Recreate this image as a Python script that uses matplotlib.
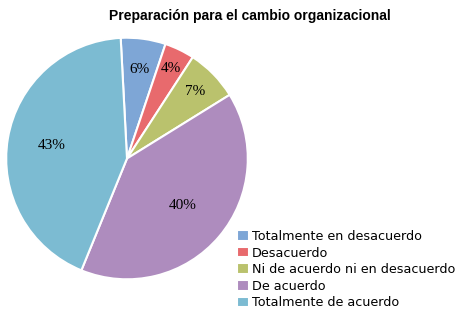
import numpy as np
import matplotlib.pyplot as plt

labels = ["Totalmente en desacuerdo", "Desacuerdo", "Ni de acuerdo ni en desacuerdo",
          "De acuerdo", "Totalmente de acuerdo"]
values = [6, 4, 7, 40, 43]
pct_labels = ["6%", "4%", "7%", "40%", "43%"]
colors = ["#7ea6d6", "#e86a6d", "#bac26d", "#ae8cbe", "#7cbbd2"]
label_dist = [0.74, 0.83, 0.79, 0.6, 0.63]

fig = plt.figure(figsize=(4.59, 3.15), dpi=100)
ax = fig.add_axes([5/459, 1 - 281/315, 244/459, 245/315])

wedges, _ = ax.pie(values, colors=colors, startangle=93, counterclock=False,
                   wedgeprops=dict(edgecolor="white", linewidth=1.5))
ax.set_xlim(-1.01, 1.01)
ax.set_ylim(-1.01, 1.01)
ax.set_aspect("equal")

for w, txt, d in zip(wedges, pct_labels, label_dist):
    mid = np.deg2rad((w.theta1 + w.theta2) / 2)
    ax.text(d * np.cos(mid), d * np.sin(mid), txt, ha="center", va="center",
            fontsize=11, family="Liberation Serif")

fig.text(250/459, 1 - 16/315, "Preparación para el cambio organizacional",
         ha="center", va="center", fontsize=10, fontweight="bold",
         family="Liberation Sans")

fig.legend(wedges, labels, loc="upper left", bbox_to_anchor=(237/459, 1 - 230/315),
           frameon=False, fontsize=9.2, handlelength=0.9, handleheight=0.9,
           handletextpad=0.25, labelspacing=0.28, borderpad=0, borderaxespad=0)

fig.savefig("out.png", dpi=100)
